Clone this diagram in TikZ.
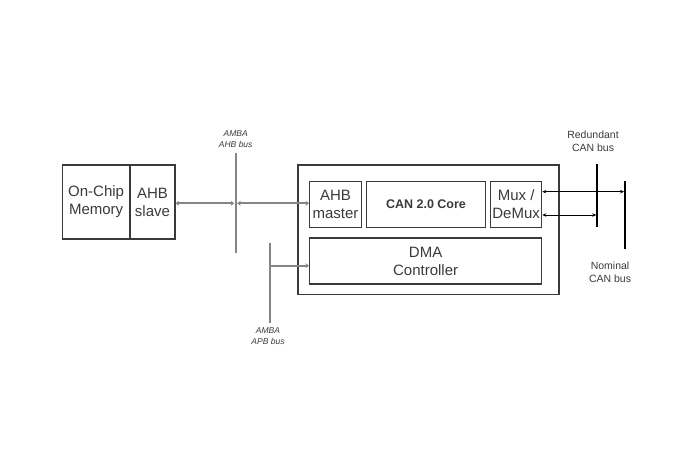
\documentclass[tikz,border=0pt]{standalone}
\usepackage{fontspec}
\setmainfont{Liberation Sans}
\usetikzlibrary{arrows.meta}
\definecolor{boxc}{HTML}{3A3A3A}
\definecolor{txtc}{HTML}{3A3A3A}
\definecolor{busc}{HTML}{858585}
\begin{document}
\begin{tikzpicture}[x=1pt,y=-1pt,
  blk/.style={draw=boxc,line width=1.3pt,inner sep=0pt,anchor=north west,text=txtc,align=center,font=\fontsize{15}{18}\selectfont},
  gbus/.style={draw=busc,line width=2.4pt},
  glink/.style={draw=busc,line width=2pt,{Stealth[length=3.5pt,width=5pt]}-{Stealth[length=3.5pt,width=5pt]}},
  glinkr/.style={draw=busc,line width=2pt,-{Stealth[length=3.5pt,width=5pt]}},
  kbus/.style={draw=black,line width=2pt},
  klink/.style={draw=black,line width=1pt,{Stealth[length=4pt,width=3.5pt]}-{Stealth[length=4pt,width=3.5pt]}},
  tinylab/.style={font=\fontsize{8.5}{11}\selectfont\itshape,text=txtc,align=center,inner sep=0pt},
  smalllab/.style={font=\fontsize{10.5}{13}\selectfont,text=txtc,align=center,inner sep=0pt}]
\useasboundingbox (0,0) rectangle (700,470);
% on-chip memory
\node[blk,minimum width=67.6pt,minimum height=74pt] (mem) at (61.7,164.3) {On-Chip\\Memory};
\node[blk,minimum width=45pt,minimum height=74pt] (slave) at (129.3,164.3) {AHB\\slave};
% outer box
\node[blk,minimum width=261pt,minimum height=129.7pt] (outer) at (297.3,164.3) {};
\node[blk,minimum width=51.7pt,minimum height=45.7pt] (master) at (309,181) {AHB\\master};
\node[blk,minimum width=119.3pt,minimum height=45.7pt,font=\fontsize{12.5}{14}\selectfont\bfseries] (core) at (365.7,181) {CAN 2.0 Core};
\node[blk,minimum width=51pt,minimum height=45.7pt] (mux) at (490,181) {Mux /\\DeMux};
\node[blk,minimum width=232pt,minimum height=46pt] (dma) at (309,237.3) {DMA\\Controller};
% AHB bus
\coordinate (ahbT) at (235.7,153);
\coordinate (ahbB) at (235.7,253);
\draw[gbus] (ahbT) -- (ahbB);
\coordinate (ahbX) at (235.7,203.3);
\draw[glink] (slave.east |- ahbX) -- ([xshift=-1.5pt]ahbX);
\draw[glink] ([xshift=1.5pt]ahbX) -- (master.west |- ahbX);
\node[tinylab] (ahblab) at (235.7,139) {AMBA\\AHB bus};
% APB bus
\coordinate (apbT) at (270,243.3);
\coordinate (apbB) at (270,322.7);
\draw[gbus] (apbT) -- (apbB);
\coordinate (apbX) at (270,265.7);
\draw[glinkr] (apbX) -- (dma.west |- apbX);
\node[tinylab] (apblab) at (268,336) {AMBA\\APB bus};
% CAN buses
\coordinate (redT) at (597.3,164.3);
\coordinate (redB) at (597.3,226.7);
\coordinate (nomT) at (625,181);
\coordinate (nomB) at (625,249.3);
\draw[kbus] (redT) -- (redB);
\draw[kbus] (nomT) -- (nomB);
\coordinate (u) at (625,191.7);
\coordinate (l) at (597.3,215);
\draw[klink] (mux.east |- u) -- ([xshift=-1pt]u);
\draw[klink] (mux.east |- l) -- ([xshift=-1pt]l);
\node[smalllab] (redlab) at (593,141.5) {Redundant\\CAN bus};
\node[smalllab] (nomlab) at (610,272.5) {Nominal\\CAN bus};
\end{tikzpicture}
\end{document}
